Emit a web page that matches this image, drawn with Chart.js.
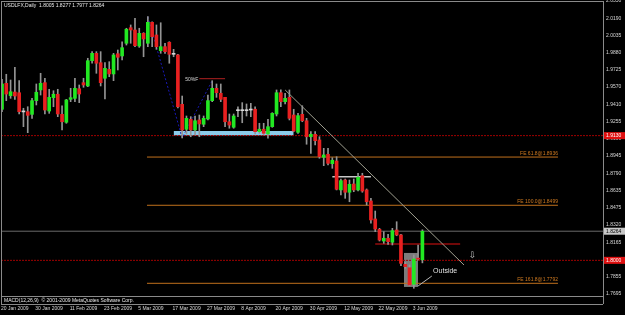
<!DOCTYPE html>
<html><head><meta charset="utf-8">
<script src="https://cdn.jsdelivr.net/npm/chart.js@4/dist/chart.umd.min.js"></script>
<style>html,body{margin:0;padding:0;background:#000;overflow:hidden}canvas{display:block}</style>
</head><body>
<canvas id="c" width="625" height="315"></canvas>
<script>
// ---- data ----
const dates = ["20 Jan","21 Jan","22 Jan","23 Jan","26 Jan","27 Jan","28 Jan","29 Jan","30 Jan",
"2 Feb","3 Feb","4 Feb","5 Feb","6 Feb","9 Feb","10 Feb","11 Feb","12 Feb","13 Feb","16 Feb","17 Feb","18 Feb","19 Feb","20 Feb","23 Feb","24 Feb","25 Feb","26 Feb","27 Feb",
"2 Mar","3 Mar","4 Mar","5 Mar","6 Mar","9 Mar","10 Mar","11 Mar","12 Mar","13 Mar","16 Mar","17 Mar","18 Mar","19 Mar","20 Mar","23 Mar","24 Mar","25 Mar","26 Mar","27 Mar","30 Mar","31 Mar",
"1 Apr","2 Apr","3 Apr","6 Apr","7 Apr","8 Apr","9 Apr","10 Apr","13 Apr","14 Apr","15 Apr","16 Apr","17 Apr","20 Apr","21 Apr","22 Apr","23 Apr","24 Apr","27 Apr","28 Apr","29 Apr","30 Apr",
"1 May","4 May","5 May","6 May","7 May","8 May","11 May","12 May","13 May","14 May","15 May","18 May","19 May","20 May","21 May","22 May","25 May","26 May","27 May","28 May","29 May",
"1 Jun","2 Jun","3 Jun","4 Jun","5 Jun"];

const opens  = [1.9369,1.9604,1.9492,1.9525,1.9519,1.9345,1.9347,1.9323,1.9447,1.9544,1.9610,1.9353,1.9474,1.9505,1.9323,1.9251,1.9459,1.9468,1.9555,1.9610,
1.9580,1.9809,1.9876,1.9791,1.9650,1.9731,1.9689,1.9872,1.9852,1.9967,2.0108,2.0087,1.9942,2.0057,1.9967,2.0157,2.0042,1.9900,1.9936,1.9976,
1.9867,1.9861,1.9414,1.9188,1.9278,1.9181,1.9272,1.9233,1.9281,1.9447,1.9559,1.9514,1.9477,1.9256,1.9206,1.9356,1.9356,1.9356,1.9362,1.9369,
1.9166,1.9188,1.9145,1.9211,1.9326,1.9519,1.9438,1.9477,1.9317,1.9160,1.9323,1.9265,1.9120,1.9142,1.9091,1.8934,1.8961,1.8876,1.8900,1.8638,
1.8728,1.8617,1.8692,1.8638,1.8767,1.8638,1.8538,1.8375,1.8281,1.8175,1.8200,1.8164,1.8275,1.8230,1.7964,1.7933,1.7783,1.8020,1.8005];
const highs  = [1.9641,1.9686,1.9634,1.9749,1.9628,1.9378,1.9392,1.9468,1.9598,1.9695,1.9650,1.9550,1.9537,1.9550,1.9399,1.9459,1.9559,1.9650,1.9589,1.9650,
1.9831,1.9891,1.9891,1.9891,1.9791,1.9800,1.9876,1.9906,1.9981,2.0103,2.0133,2.0193,2.0103,2.0063,2.0208,2.0162,2.0133,2.0153,1.9967,1.9981,
1.9912,1.9867,1.9489,1.9308,1.9302,1.9308,1.9317,1.9308,1.9498,1.9628,1.9598,1.9598,1.9477,1.9326,1.9326,1.9392,1.9429,1.9417,1.9423,1.9392,
1.9242,1.9242,1.9278,1.9338,1.9544,1.9544,1.9514,1.9544,1.9369,1.9332,1.9401,1.9287,1.9166,1.9166,1.9120,1.9015,1.9015,1.8930,1.8939,1.8737,
1.8737,1.8728,1.8737,1.8789,1.8789,1.8647,1.8562,1.8447,1.8290,1.8260,1.8236,1.8290,1.8350,1.8236,1.7982,1.7958,1.8049,1.8139,1.8277];
const lows   = [1.9347,1.9447,1.9468,1.9459,1.9326,1.9211,1.9157,1.9287,1.9408,1.9498,1.9326,1.9332,1.9392,1.9302,1.9181,1.9242,1.9438,1.9438,1.9429,1.9568,
1.9574,1.9786,1.9695,1.9580,1.9462,1.9664,1.9628,1.9725,1.9815,1.9951,1.9967,1.9936,1.9930,1.9845,1.9936,1.9936,1.9912,1.9876,1.9876,1.9786,
1.9845,1.9381,1.9109,1.9145,1.9120,1.9136,1.9120,1.9211,1.9272,1.9438,1.9477,1.9438,1.9211,1.9197,1.9197,1.9302,1.9247,1.9308,1.9302,1.9145,
1.9151,1.9136,1.9106,1.9206,1.9308,1.9392,1.9417,1.9272,1.9166,1.9151,1.9256,1.9052,1.8970,1.9045,1.8925,1.8858,1.8864,1.8834,1.8638,1.8592,
1.8562,1.8531,1.8622,1.8628,1.8617,1.8502,1.8336,1.8260,1.8175,1.8154,1.8145,1.8139,1.8223,1.7952,1.7928,1.7770,1.7747,1.8003,1.7977];
const closes = [1.9598,1.9507,1.9528,1.9489,1.9347,1.9345,1.9314,1.9447,1.9523,1.9604,1.9362,1.9477,1.9505,1.9326,1.9256,1.9453,1.9474,1.9559,1.9507,1.9589,
1.9809,1.9876,1.9786,1.9610,1.9740,1.9689,1.9861,1.9840,1.9927,2.0094,2.0087,1.9945,2.0057,2.0006,2.0157,2.0027,1.9936,1.9936,1.9891,1.9867,
1.9867,1.9392,1.9181,1.9287,1.9181,1.9265,1.9236,1.9287,1.9447,1.9559,1.9519,1.9459,1.9256,1.9226,1.9308,1.9356,1.9356,1.9356,1.9362,1.9166,
1.9188,1.9151,1.9211,1.9332,1.9519,1.9438,1.9468,1.9287,1.9172,1.9311,1.9265,1.9120,1.9142,1.9084,1.8939,1.8955,1.8879,1.8907,1.8644,1.8722,
1.8617,1.8689,1.8638,1.8753,1.8628,1.8531,1.8366,1.8284,1.8184,1.8200,1.8169,1.8269,1.8230,1.7973,1.7943,1.7777,1.8012,1.8010,1.8264];

const dateTickIndex = [0,8,16,24,32,40,48,56,64,72,80,88,96];
const priceTicks = [2.0350,2.0190,2.0035,1.9880,1.9725,1.9570,1.9410,1.9255,1.9100,1.8945,1.8790,1.8635,1.8475,1.8320,1.8165,1.8010,1.7855,1.7695];
const titleText = "USDLFX,Daily  1.8005 1.8277 1.7977 1.8264";
const indicatorText = "MACD(12,26,9)  \u00A9 2001-2009 MetaQuotes Software Corp.";

// drawn objects, in (bar index, price) units
const redLevels = [1.9130, 1.8000];
const currentPrice = 1.8264;
const feLevels = [1.8936, 1.8499, 1.7792];
const feLabels = ["FE 61.8@1.8936", "FE 100.0@1.8499", "FE 161.8@1.7792"];
const feSpan = [33.8, 129.6];
const zigzagIdx = [34, 42, 49];
const zigzagPrice = [2.0208, 1.9109, 1.9628];
const trendIdx = [66, 107.7];
const trendPrice = [1.9544, 1.7958];
const fibo50Idx = [46, 52];
const fibo50Price = 1.9646;
const zoneIdx = [40, 68];
const zonePrice = [1.9131, 1.9172];
const whiteLevelIdx = [77, 86];
const whiteLevelPrice = 1.8758;
const redShortIdx = [87, 106.8];
const redShortPrice = 1.8148;
const boxIdx = [93.7, 97];
const boxPrice = [1.7759, 1.8067];
const outsideLineIdx = [97, 100.2];
const outsideLinePrice = [1.7768, 1.7858];
const outsideTextAt = [100.5, 1.7906];
const arrowAt = [109.7, 1.8044];

// ---- view ----
const X_MIN = -0.233, X_MAX = 140.1;
const Y_MIN = 1.7686, Y_MAX = 2.0350;
const FONT = '"Liberation Sans", Arial, sans-serif';

const idx = dates.map((d, i) => i);
const bodyData = idx.map(i => ({x: i, y: [opens[i], closes[i]]}));
const wickData = idx.map(i => ({x: i, y: [lows[i], highs[i]]}));
const bodyColors = idx.map(i => closes[i] > opens[i] ? '#22e822' : (closes[i] < opens[i] ? '#e82020' : '#d8d8d8'));

function seg(x0, x1, y0, y1) { return [{x: x0, y: y0}, {x: x1, y: y1}]; }
function lineDs(data, color, width, dash, order) {
  return {type: 'line', data, borderColor: color, borderWidth: width, borderDash: dash || [],
          pointRadius: 0, tension: 0, fill: false, order: order};
}

const datasets = [
  {type: 'bar', data: bodyData, backgroundColor: bodyColors, barThickness: 3, grouped: false, minBarLength: 1, borderWidth: 0, order: 1},
  {type: 'bar', data: wickData, backgroundColor: '#949494', barThickness: 1, grouped: false, borderWidth: 0, order: 2},
  {type: 'line', data: seg(zoneIdx[0], zoneIdx[1], zonePrice[1], zonePrice[1]), borderWidth: 0, pointRadius: 0,
   fill: {value: zonePrice[0]}, backgroundColor: '#8ccbea', order: 9},
  {type: 'line', data: seg(boxIdx[0], boxIdx[1], boxPrice[1], boxPrice[1]), borderWidth: 0, pointRadius: 0,
   fill: {value: boxPrice[0]}, backgroundColor: '#7c7c7c', order: 9},
  lineDs(seg(X_MIN, X_MAX, redLevels[0], redLevels[0]), '#a00000', 1, [2, 1], 7),
  lineDs(seg(X_MIN, X_MAX, redLevels[1], redLevels[1]), '#a00000', 1, [2, 1], 7),
  lineDs(seg(X_MIN, X_MAX, currentPrice, currentPrice), '#6a6a6a', 1, [], 7),
  lineDs(seg(feSpan[0], feSpan[1], feLevels[0], feLevels[0]), '#c0701c', 1, [], 7),
  lineDs(seg(feSpan[0], feSpan[1], feLevels[1], feLevels[1]), '#c0701c', 1, [], 7),
  lineDs(seg(feSpan[0], feSpan[1], feLevels[2], feLevels[2]), '#c0701c', 1, [], 7),
  lineDs(zigzagIdx.map((v, i) => ({x: v, y: zigzagPrice[i]})), '#1818b8', 1, [2, 2], 6),
  lineDs(seg(trendIdx[0], trendIdx[1], trendPrice[0], trendPrice[1]), '#a0a090', 1, [], 6),
  lineDs(seg(fibo50Idx[0], fibo50Idx[1], fibo50Price, fibo50Price), '#b02020', 1, [], 6),
  lineDs(seg(whiteLevelIdx[0], whiteLevelIdx[1], whiteLevelPrice, whiteLevelPrice), '#c8c8c8', 1.5, [], 6),
  lineDs(seg(redShortIdx[0], redShortIdx[1], redShortPrice, redShortPrice), '#e01010', 1, [], 6),
  lineDs(seg(outsideLineIdx[0], outsideLineIdx[1], outsideLinePrice[0], outsideLinePrice[1]), '#b8b8b8', 1, [], 6)
];

const decor = {
  id: 'decor',
  afterDraw(chart) {
    const ctx = chart.ctx, ca = chart.chartArea, xs = chart.scales.x, ys = chart.scales.y;
    ctx.save();
    // frame
    ctx.strokeStyle = '#8a8a8a'; ctx.lineWidth = 1;
    ctx.beginPath();
    ctx.moveTo(ca.left, ca.top + 0.5); ctx.lineTo(ca.right, ca.top + 0.5);
    ctx.moveTo(ca.left + 0.5, ca.top); ctx.lineTo(ca.left + 0.5, ca.bottom + 9);
    ctx.moveTo(ca.right + 0.5, ca.top); ctx.lineTo(ca.right + 0.5, ca.bottom + 9);
    ctx.moveTo(ca.left, ca.bottom + 1.5); ctx.lineTo(ca.right, ca.bottom + 1.5);
    ctx.moveTo(ca.left, ca.bottom + 9.5); ctx.lineTo(ca.right, ca.bottom + 9.5);
    ctx.stroke();

    ctx.textBaseline = 'middle';
    // title
    ctx.fillStyle = '#e8e8e8'; ctx.font = '5px ' + FONT; ctx.textAlign = 'left';
    ctx.fillText(titleText, ca.left + 3, ca.top + 5);
    // indicator window text
    ctx.fillText(indicatorText, ca.left + 3, ca.bottom + 5.5);

    // FE labels
    ctx.fillStyle = '#d07a20'; ctx.textAlign = 'right';
    feLevels.forEach((lv, i) => {
      ctx.fillText(feLabels[i], xs.getPixelForValue(feSpan[1]), ys.getPixelForValue(lv) - 3.5);
    });
    // 50%F
    ctx.fillStyle = '#d8d8d8';
    ctx.fillText('50%F', xs.getPixelForValue(fibo50Idx[0]) - 1, ys.getPixelForValue(fibo50Price) + 1);
    // Outside
    ctx.font = '7px ' + FONT; ctx.textAlign = 'left'; ctx.fillStyle = '#e0e0e0';
    ctx.fillText('Outside', xs.getPixelForValue(outsideTextAt[0]), ys.getPixelForValue(outsideTextAt[1]));
    // arrow
    ctx.font = '9px "DejaVu Sans"'; ctx.fillStyle = '#c0c0c0'; ctx.textAlign = 'center';
    ctx.fillText('\u21E9', xs.getPixelForValue(arrowAt[0]), ys.getPixelForValue(arrowAt[1]));

    // price boxes on the axis
    ctx.font = '5px ' + FONT; ctx.textAlign = 'left';
    const box = (v, bg, fg) => {
      const y = ys.getPixelForValue(v);
      ctx.fillStyle = bg; ctx.fillRect(ca.right + 1, y - 3.5, 21, 7);
      ctx.fillStyle = fg; ctx.fillText(v.toFixed(4), ca.right + 3, y);
    };
    box(redLevels[0], '#e01010', '#ffffff');
    box(redLevels[1], '#e01010', '#ffffff');
    box(currentPrice, '#c8c8c8', '#000000');
    ctx.restore();
  }
};

function noPad(s) { s.paddingLeft = 0; s.paddingRight = 0; s.paddingTop = 0; s.paddingBottom = 0; }

new Chart(document.getElementById('c'), {
  type: 'bar',
  data: {datasets},
  options: {
    responsive: false, animation: false, devicePixelRatio: 1,
    events: [],
    layout: {padding: {left: 1, top: 1, right: 0, bottom: 0}},
    plugins: {legend: {display: false}, tooltip: {enabled: false}},
    scales: {
      x: {
        type: 'linear', min: X_MIN, max: X_MAX, offset: false, bounds: 'data',
        grid: {display: false, drawTicks: false}, border: {display: false},
        afterFit: s => { s.height = 20; noPad(s); },
        afterBuildTicks: s => { s.ticks = dateTickIndex.map(v => ({value: v})); },
        ticks: {autoSkip: false, maxRotation: 0, align: 'start', padding: 10.5, labelOffset: -1,
                color: '#d8d8d8', font: {size: 5, family: FONT},
                callback: v => dates[v] ? dates[v] + ' 2009' : ''}
      },
      y: {
        type: 'linear', position: 'right', min: Y_MIN, max: Y_MAX, bounds: 'data',
        grid: {display: false, drawTicks: false}, border: {display: true, color: '#8a8a8a'},
        afterFit: s => { s.width = 22; noPad(s); },
        afterBuildTicks: s => { s.ticks = priceTicks.map(v => ({value: v})); },
        ticks: {autoSkip: false, padding: 3, color: '#d8d8d8', font: {size: 5, family: FONT},
                callback: v => Number(v).toFixed(4)}
      }
    }
  },
  plugins: [decor]
});
</script>
</body></html>
